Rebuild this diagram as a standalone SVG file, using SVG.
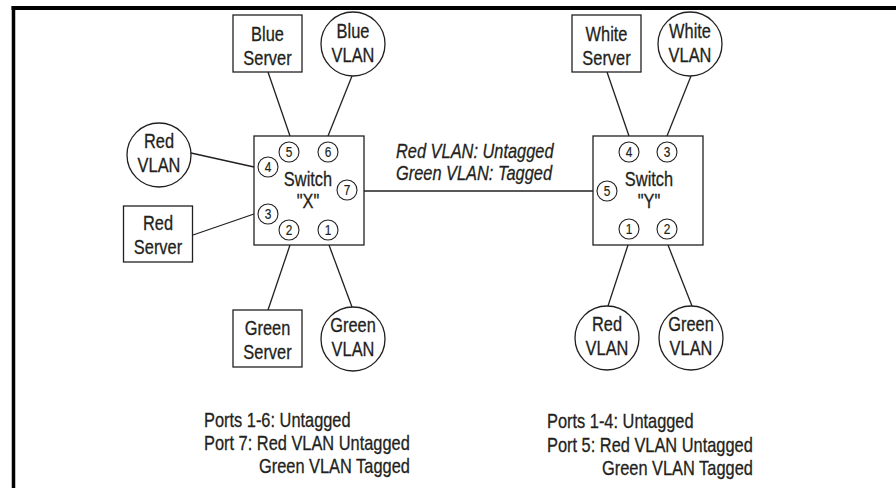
<svg xmlns="http://www.w3.org/2000/svg" width="896" height="488" viewBox="0 0 896 488">
<style>
text{font-family:"Liberation Sans",Arial,sans-serif;fill:#231f20;stroke:#231f20;stroke-width:0.3}
.lbl{font-size:20px;text-anchor:middle}
.port{font-size:14px;text-anchor:middle;stroke-width:0.2}
.note{font-size:20px}
.it{font-size:20px;font-style:italic}
.shape{fill:#fff;stroke:#231f20;stroke-width:1.3}
.pc{fill:#fff;stroke:#231f20;stroke-width:1.1}
.conn line{stroke:#231f20;stroke-width:1.3}
</style>
<rect width="896" height="488" fill="#fff"/>
<g id="frame">
<line x1="11.5" y1="8" x2="896" y2="8" stroke="#000" stroke-width="4"/>
<line x1="13.5" y1="6" x2="13.5" y2="488" stroke="#000" stroke-width="3.5"/>
</g>
<g id="connectors" class="conn">
<line x1="268" y1="72" x2="290" y2="136"/>
<line x1="352" y1="76" x2="328" y2="136"/>
<line x1="191" y1="153" x2="254" y2="167"/>
<line x1="193" y1="235" x2="254" y2="214"/>
<line x1="290" y1="245" x2="268" y2="310"/>
<line x1="329" y1="245" x2="352" y2="307"/>
<line x1="364" y1="191" x2="593" y2="191"/>
<line x1="607" y1="72" x2="629" y2="136"/>
<line x1="691" y1="76" x2="667" y2="136"/>
<line x1="628" y1="245" x2="608" y2="306"/>
<line x1="668" y1="245" x2="692" y2="306"/>
</g>
<g id="switch-x">
<rect class="shape" x="254" y="136" width="110" height="109"/>
<text class="lbl" transform="translate(308 186) scale(0.82 1)">Switch</text>
<text class="lbl" transform="translate(308 208) scale(0.82 1)">"X"</text>
<circle class="pc" cx="289" cy="152" r="10"/><text class="port" transform="translate(289 157) scale(0.85 1)">5</text>
<circle class="pc" cx="328" cy="152" r="10"/><text class="port" transform="translate(328 157) scale(0.85 1)">6</text>
<circle class="pc" cx="268" cy="167" r="10"/><text class="port" transform="translate(268 172) scale(0.85 1)">4</text>
<circle class="pc" cx="347" cy="190" r="10"/><text class="port" transform="translate(347 195) scale(0.85 1)">7</text>
<circle class="pc" cx="268" cy="214" r="10"/><text class="port" transform="translate(268 219) scale(0.85 1)">3</text>
<circle class="pc" cx="289" cy="230" r="10"/><text class="port" transform="translate(289 235) scale(0.85 1)">2</text>
<circle class="pc" cx="328" cy="230" r="10"/><text class="port" transform="translate(328 235) scale(0.85 1)">1</text>
</g>
<g id="switch-y">
<rect class="shape" x="593" y="136" width="110" height="109"/>
<text class="lbl" transform="translate(649 186) scale(0.82 1)">Switch</text>
<text class="lbl" transform="translate(649 208) scale(0.82 1)">"Y"</text>
<circle class="pc" cx="629" cy="152" r="10"/><text class="port" transform="translate(629 157) scale(0.85 1)">4</text>
<circle class="pc" cx="667" cy="152" r="10"/><text class="port" transform="translate(667 157) scale(0.85 1)">3</text>
<circle class="pc" cx="607" cy="191" r="10"/><text class="port" transform="translate(607 196) scale(0.85 1)">5</text>
<circle class="pc" cx="629" cy="229" r="10"/><text class="port" transform="translate(629 234) scale(0.85 1)">1</text>
<circle class="pc" cx="667" cy="229" r="10"/><text class="port" transform="translate(667 234) scale(0.85 1)">2</text>
</g>
<g id="blue-server">
<rect class="shape" x="233" y="15" width="69" height="57"/>
<text class="lbl" transform="translate(267.5 41) scale(0.82 1)">Blue</text>
<text class="lbl" transform="translate(267.5 65) scale(0.82 1)">Server</text>
</g>
<g id="blue-vlan">
<circle class="shape" cx="353" cy="44" r="32"/>
<text class="lbl" transform="translate(353 38) scale(0.82 1)">Blue</text>
<text class="lbl" transform="translate(353 62) scale(0.82 1)">VLAN</text>
</g>
<g id="red-vlan-x">
<circle class="shape" cx="159" cy="155" r="32"/>
<text class="lbl" transform="translate(159 148) scale(0.82 1)">Red</text>
<text class="lbl" transform="translate(159 172) scale(0.82 1)">VLAN</text>
</g>
<g id="red-server">
<rect class="shape" x="123.5" y="206" width="69" height="56"/>
<text class="lbl" transform="translate(158 230) scale(0.82 1)">Red</text>
<text class="lbl" transform="translate(158 254) scale(0.82 1)">Server</text>
</g>
<g id="green-server">
<rect class="shape" x="233" y="310" width="69" height="57"/>
<text class="lbl" transform="translate(267.5 335) scale(0.82 1)">Green</text>
<text class="lbl" transform="translate(267.5 359) scale(0.82 1)">Server</text>
</g>
<g id="green-vlan-x">
<circle class="shape" cx="353" cy="339" r="32"/>
<text class="lbl" transform="translate(353 332) scale(0.82 1)">Green</text>
<text class="lbl" transform="translate(353 356) scale(0.82 1)">VLAN</text>
</g>
<g id="white-server">
<rect class="shape" x="572" y="15" width="69" height="57"/>
<text class="lbl" transform="translate(606.5 41) scale(0.82 1)">White</text>
<text class="lbl" transform="translate(606.5 65) scale(0.82 1)">Server</text>
</g>
<g id="white-vlan">
<circle class="shape" cx="690" cy="44" r="32"/>
<text class="lbl" transform="translate(690 38) scale(0.82 1)">White</text>
<text class="lbl" transform="translate(690 62) scale(0.82 1)">VLAN</text>
</g>
<g id="red-vlan-y">
<circle class="shape" cx="607" cy="338" r="32"/>
<text class="lbl" transform="translate(607 331) scale(0.82 1)">Red</text>
<text class="lbl" transform="translate(607 355) scale(0.82 1)">VLAN</text>
</g>
<g id="green-vlan-y">
<circle class="shape" cx="691" cy="338" r="32"/>
<text class="lbl" transform="translate(691 331) scale(0.82 1)">Green</text>
<text class="lbl" transform="translate(691 355) scale(0.82 1)">VLAN</text>
</g>
<g id="link-label">
<text class="it" transform="translate(396 158) scale(0.82 1)">Red VLAN: Untagged</text>
<text class="it" transform="translate(396 180) scale(0.82 1)">Green VLAN: Tagged</text>
</g>
<g id="notes-x">
<text class="note" transform="translate(204 427) scale(0.82 1)">Ports 1-6: Untagged</text>
<text class="note" transform="translate(204 450) scale(0.82 1)">Port 7: Red VLAN Untagged</text>
<text class="note" transform="translate(259 473) scale(0.82 1)">Green VLAN Tagged</text>
</g>
<g id="notes-y">
<text class="note" transform="translate(547 428) scale(0.82 1)">Ports 1-4: Untagged</text>
<text class="note" transform="translate(547 452) scale(0.82 1)">Port 5: Red VLAN Untagged</text>
<text class="note" transform="translate(602 475) scale(0.82 1)">Green VLAN Tagged</text>
</g>
</svg>
